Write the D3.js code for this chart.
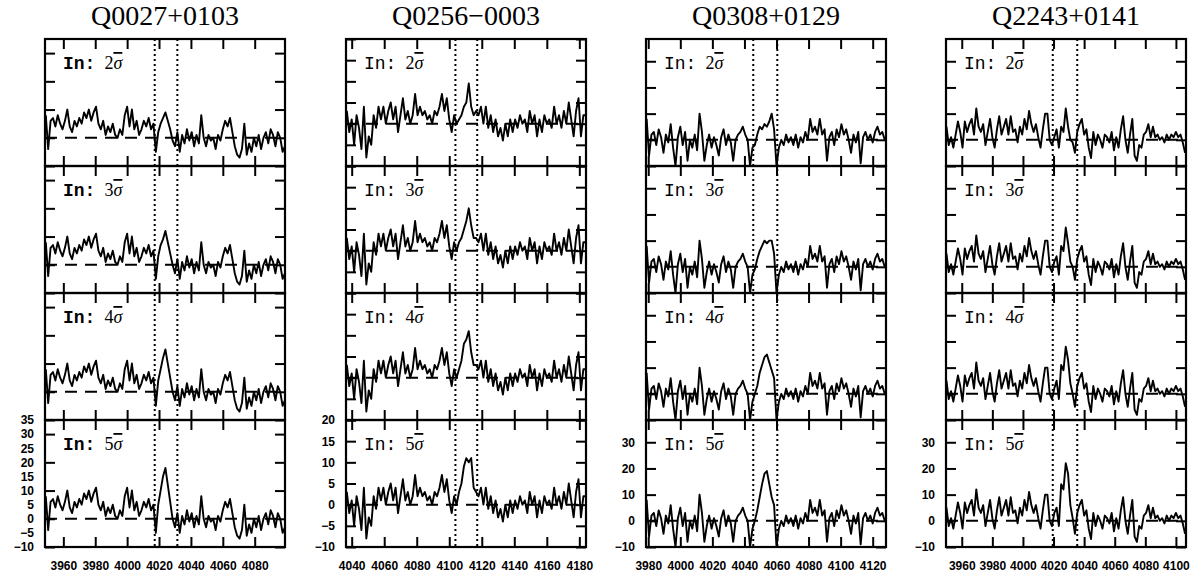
<!DOCTYPE html>
<html lang="en">
<head>
    <meta charset="UTF-8">
    <title>Injected line tests</title>
    <script src="https://cdnjs.cloudflare.com/ajax/libs/d3/7.8.5/d3.min.js"></script>
    <style>
        body { margin: 0; background: #fff; }
        .frame { fill: none; stroke: #000; stroke-width: 2.2; }
        .axis path { display: none; }
        .axis line { stroke: #000; stroke-width: 2; }
        .axis text {
            font-family: "Liberation Sans", sans-serif;
            font-size: 12px;
            font-weight: bold;
            fill: #000;
        }
        .spec { fill: none; stroke: #000; stroke-width: 1.9; stroke-linejoin: round; }
        .zero { stroke: #000; stroke-width: 2; stroke-dasharray: 12,8; }
        .marker { stroke: #000; stroke-width: 2; stroke-dasharray: 2,3; }
        .title { font-family: "Liberation Serif", serif; font-size: 28px; }
    </style>
</head>
<body>
<script type="text/javascript">
    const width = 1200;
    const height = 575;

    const titles = ["Q0027+0103", "Q0256\u22120003", "Q0308+0129", "Q2243+0141"];
    const sigmas = ["2", "3", "4", "5"];

    // wavelength grid of each spectrum (start, step in A)
    const lamStart = [3949, 4037, 3979, 3950];
    const lamStep = 1.5;

    const xDomains = [[3948.5, 4099], [4036.5, 4184.1], [3978.6, 4128.3], [3949.7, 4106.6]];
    const yDomains = [[-10, 35], [-10, 20], [-10, 38.5], [-10, 38.5]];

    const xTicks = [
        [3960, 3980, 4000, 4020, 4040, 4060, 4080],
        [4040, 4060, 4080, 4100, 4120, 4140, 4160, 4180],
        [3980, 4000, 4020, 4040, 4060, 4080, 4100, 4120],
        [3960, 3980, 4000, 4020, 4040, 4060, 4080, 4100]
    ];
    const yTicks = [
        [-10, 0, 10, 20, 30],
        [-10, -5, 0, 5, 10, 15, 20],
        [-10, 0, 10, 20, 30],
        [-10, 0, 10, 20, 30]
    ];
    const yLabels = [
        [-10, -5, 0, 5, 10, 15, 20, 25, 30, 35],
        [-10, -5, 0, 5, 10, 15, 20],
        [-10, 0, 10, 20, 30],
        [-10, 0, 10, 20, 30]
    ];

    // dotted window around the injected line
    const windows = [[4017.3, 4031.5], [4103.8, 4117.2], [4045.5, 4060.5], [4019.5, 4035.5]];

    const flux0027 = [8, -4, 6, 7, 4, 8, 5, 3, 6, 10,
        4, 2, 6, 4, 7, 5, 9, 7, 10, 6,
        9, 11, 5, 3, 6, 1, 4, 2, 5, 1,
        0, 3, 1, 8, 11, 4, 10, 3, 6, 1,
        3, 6, 4, 7, 3, 5, -5, 2, 5, 7,
        9, 6, 3, -1, -3, 2, -5, 1, -2, 3,
        -1, 2, -3, 1, -2, 8, 0, -3, 1, -1,
        0, -4, 1, -1, 3, 6, 4, 7, 2, -3,
        -6, -7, -4, 5, -6, -2, -5, 0, -3, 1,
        -4, 0, 2, -2, 3, 1, -3, 2, 0, -5,
        -3];
    const flux0256 = [3, -2, 1, -5, 2, -1, -6, 4, -8, -3,
        -5, 2, -1, 4, 1, 4, 0, 3, 5, 1,
        4, -2, 2, 6, 1, 3, 0, 2, 7, 2,
        4, 2, 3, 1, 2, 0, 3, 2, 4, 7,
        3, 6, 1, -2, 2, 0, 1, 2, 4, 5,
        9.5, 4, 2, 3, 2, 4, 0, 4, -1, 2,
        -2, 1, -3, -1, -4, 0, -3, 1, -2, 1,
        -1, 2, 0, 1, -2, 3, 0, 2, -3, 1,
        -2, 2, 0, 1, -1, 4, 0, 2, -1, 3,
        0, 5, 1, -3, 3, 6, -3, 2, 2];
    const flux0308 = [8, -6, 2, 3, -2, 4, 1, -5, 2, -1,
        6, -3, -10, 1, 5, -2, 3, -8, 0, -3,
        2, -4, 10, 3, -8, -2, 2, -3, 1, -2,
        -6, 1, 4, -2, 2, -1, -8, 0, 2, 3,
        5, 2, 0, -10, -3, -2, 2, 5, 4, 6,
        5, 7, 10, 4, -10, -3, 0, -2, 2, -1,
        1, -2, 2, -3, 1, -1, 3, 0, 8, 3,
        5, 2, 8, 2, 4, -8, 1, 3, -2, 4,
        1, 6, 2, 4, 0, -5, 2, -1, 3, -9,
        1, 3, 0, 2, -1, 3, 5, 2, 3, 0];
    const flux2243 = [5, -2, 1, -3, 2, 7, 3, -3, 7, 3,
        6, 8, 2, 12, 5, 3, 6, -2, 3, 8,
        1, -3, 4, 9, 2, 5, 8, 2, 9, 3,
        4, -1, 5, 2, 8, 4, 11, 6, 3, 6,
        1, -3, 4, 10, 10, 0, -2, 1, 4, -3,
        5, 3, 12, 5, 0, -1, -5, 3, 6, 8,
        2, 4, -3, -7, 3, -2, 2, 0, -3, 2,
        1, -1, 3, -4, 1, -3, 4, 9, 0, -5,
        2, 8, -6, -8, -2, -3, 2, 3, 6, 1,
        5, 1, 2, 0, 1, -1, 2, 0, 2, 1,
        3, 1, 2, -1, -5];

    // flux inside the window for the 2, 3, 4 and 5 sigma injections
    const peakStart = [47, 46, 45, 47];
    const peak0027 = [
        [2, 5, 7, 9, 6, 3, -1, -3],
        [3, 7, 9, 12, 8, 4, 0, -3],
        [4, 8, 12, 15, 10, 5, 0, -3],
        [5, 10, 15, 18, 12, 6, 0, -3]
    ];
    const peak0256 = [
        [1, 2, 4, 5, 9.5, 4, 2],
        [2, 3, 5, 7, 10, 6, 3],
        [2, 4, 8, 9, 11, 6, 3],
        [3, 5, 9, 11, 10, 11, 4]
    ];
    const peak0308 = [
        [-2, 2, 5, 4, 6, 5, 7, 10, 4, -10],
        [-1, 3, 6, 8, 10, 9, 10, 10, 5, -10],
        [0, 3, 8, 11, 14, 15, 12, 9, 6, -10],
        [0, 4, 9, 14, 18, 19, 14, 9, 6, -10]
    ];
    const peak2243 = [
        [1, 4, -3, 5, 3, 12, 5, 0, -1, -5],
        [2, 4, -3, 8, 6, 15, 9, 2, 0, -5],
        [2, 5, -2, 11, 9, 18, 13, 4, 0, -5],
        [3, 5, -2, 14, 12, 22, 18, 6, 1, -5]
    ];

    const fluxes = [flux0027, flux0256, flux0308, flux2243];
    const peaks = [peak0027, peak0256, peak0308, peak2243];

    const colLeft = [45, 346, 646, 946];
    const panelW = 240;
    const plotTop = 39;
    const panelH = 127;
    const tickLen = 10;

    const svg = d3.select("body")
        .append("svg")
        .attr("width", width)
        .attr("height", height);

    function panelFlux(c, k) {
        const out = fluxes[c].slice();
        peaks[c][k].forEach(function(v, i) { out[peakStart[c] + i] = v; });
        return out.map(function(v, i) { return [lamStart[c] + i * lamStep, v]; });
    }

    for (let c = 0; c < 4; c++) {
        const x0 = colLeft[c];
        const xScale = d3.scaleLinear()
            .domain(xDomains[c])
            .range([x0, x0 + panelW]);

        svg.append("text")
            .attr("class", "title")
            .attr("x", x0 + panelW / 2)
            .attr("y", 25)
            .attr("text-anchor", "middle")
            .text(titles[c]);

        for (let k = 0; k < 4; k++) {
            const y0 = plotTop + k * panelH;
            const yScale = d3.scaleLinear()
                .domain(yDomains[c])
                .range([y0 + panelH, y0]);
            const g = svg.append("g");
            const clipId = "clip" + c + k;

            g.append("clipPath")
                .attr("id", clipId)
                .append("rect")
                .attr("x", x0)
                .attr("y", y0)
                .attr("width", panelW)
                .attr("height", panelH);

            g.append("line")
                .attr("class", "zero")
                .attr("x1", x0)
                .attr("x2", x0 + panelW)
                .attr("y1", yScale(0))
                .attr("y2", yScale(0));

            const line = d3.line()
                .x(function(d) { return xScale(d[0]); })
                .y(function(d) { return yScale(d[1]); });

            g.append("path")
                .datum(panelFlux(c, k))
                .attr("class", "spec")
                .attr("clip-path", "url(#" + clipId + ")")
                .attr("d", line);

            // ticks on all four sides, pointing inward
            g.append("g")
                .attr("class", "axis")
                .attr("transform", "translate(0," + y0 + ")")
                .call(d3.axisTop(xScale).tickValues(xTicks[c]).tickSizeInner(-tickLen).tickSizeOuter(0).tickFormat(""));
            const bottom = d3.axisBottom(xScale).tickValues(xTicks[c]).tickSizeInner(-tickLen).tickSizeOuter(0).tickPadding(14);
            if (k < 3) bottom.tickFormat("");
            else bottom.tickFormat(d3.format("d"));
            g.append("g")
                .attr("class", "axis")
                .attr("transform", "translate(0," + (y0 + panelH) + ")")
                .call(bottom);
            g.append("g")
                .attr("class", "axis")
                .attr("transform", "translate(" + x0 + ",0)")
                .call(d3.axisLeft(yScale).tickValues(yTicks[c]).tickSizeInner(-tickLen).tickSizeOuter(0).tickFormat(""));
            g.append("g")
                .attr("class", "axis")
                .attr("transform", "translate(" + (x0 + panelW) + ",0)")
                .call(d3.axisRight(yScale).tickValues(yTicks[c]).tickSizeInner(-tickLen).tickSizeOuter(0).tickFormat(""));
            if (k === 3) {
                g.append("g")
                    .attr("class", "axis")
                    .attr("transform", "translate(" + x0 + ",0)")
                    .call(d3.axisLeft(yScale).tickValues(yLabels[c]).tickSize(0).tickPadding(11).tickFormat(d3.format("d")));
            }

            g.append("rect")
                .attr("class", "frame")
                .attr("x", x0)
                .attr("y", y0)
                .attr("width", panelW)
                .attr("height", panelH);

            const label = g.append("text")
                .attr("x", x0 + 18)
                .attr("y", y0 + 30)
                .attr("font-size", 18);
            label.append("tspan")
                .attr("font-family", "Liberation Mono, monospace")
                .attr("font-weight", c === 0 ? "bold" : "normal")
                .text("In:");
            label.append("tspan")
                .attr("dx", 9)
                .attr("font-family", "Liberation Serif, serif")
                .text(sigmas[k]);
            label.append("tspan")
                .attr("font-family", "Liberation Serif, serif")
                .attr("font-style", "italic")
                .style("text-decoration", "overline")
                .text("\u03c3");
        }

        // dotted lines through the whole column
        svg.selectAll(null)
            .data(windows[c])
            .enter()
            .append("line")
            .attr("class", "marker")
            .attr("x1", function(d) { return xScale(d); })
            .attr("x2", function(d) { return xScale(d); })
            .attr("y1", plotTop)
            .attr("y2", plotTop + 4 * panelH);
    }
</script>
</body>
</html>
